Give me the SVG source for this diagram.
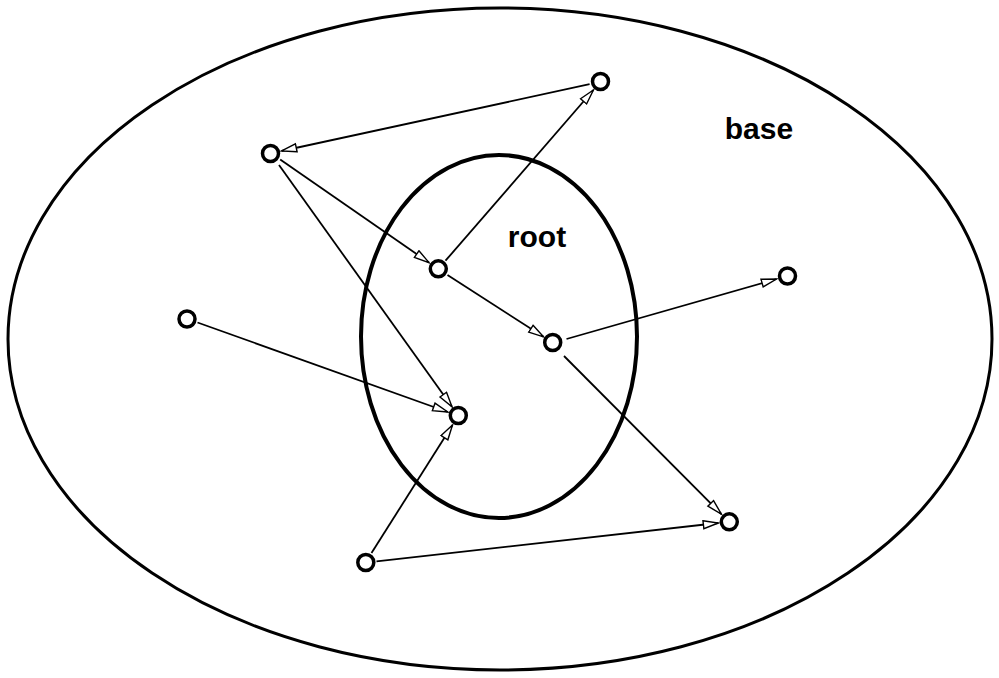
<svg xmlns="http://www.w3.org/2000/svg" width="999" height="678" viewBox="0 0 999 678">
<style>
.region{fill:none;stroke:#000}
.node{fill:#fff;stroke:#000;stroke-width:3.5}
.edge{fill:none;stroke:#000;stroke-width:1.8;marker-end:url(#arr)}
.lbl{font-family:"Liberation Sans",Arial,sans-serif;font-weight:bold;font-size:30px;text-anchor:middle;fill:#000}
</style>
<defs>
<marker id="arr" markerUnits="userSpaceOnUse" markerWidth="20" markerHeight="12" refX="16" refY="5" orient="auto">
<path d="M1,1 L16,5 L1,9 Z" fill="#fff" stroke="#000" stroke-width="1.4"/>
</marker>
</defs>
<g id="base">
<ellipse class="region" cx="500" cy="339" rx="492" ry="331" stroke-width="3"/>
<text class="lbl" x="759" y="139">base</text>
</g>
<g id="root">
<ellipse class="region" cx="499" cy="336.5" rx="138" ry="181.5" stroke-width="4"/>
<text class="lbl" x="537" y="247">root</text>
</g>
<g id="connectors">
<line class="edge" x1="589.6" y1="84.2" x2="281.6" y2="151"/>
<line class="edge" x1="445.5" y1="260.7" x2="593.4" y2="90"/>
<line class="edge" x1="280.2" y1="159.5" x2="429" y2="262.6"/>
<line class="edge" x1="279" y1="165" x2="452" y2="406.8"/>
<line class="edge" x1="447.5" y1="275" x2="543.5" y2="336.8"/>
<line class="edge" x1="566.5" y1="339" x2="776.5" y2="279"/>
<line class="edge" x1="564" y1="356" x2="721.3" y2="514"/>
<line class="edge" x1="197.5" y1="322.5" x2="447.8" y2="412"/>
<line class="edge" x1="371.5" y1="553" x2="452.5" y2="425"/>
<line class="edge" x1="376.5" y1="561.3" x2="718.3" y2="523"/>
</g>
<g id="nA"><circle class="node" cx="270.5" cy="153.5" r="8"/></g>
<g id="nB"><circle class="node" cx="600.5" cy="81.5" r="8"/></g>
<g id="nC"><circle class="node" cx="438.3" cy="268.8" r="8"/></g>
<g id="nD"><circle class="node" cx="552.7" cy="342.5" r="8"/></g>
<g id="nE"><circle class="node" cx="787.5" cy="276" r="8"/></g>
<g id="nF"><circle class="node" cx="187" cy="319" r="8"/></g>
<g id="nG"><circle class="node" cx="458.3" cy="415.5" r="8"/></g>
<g id="nH"><circle class="node" cx="365.8" cy="562.5" r="8"/></g>
<g id="nI"><circle class="node" cx="729.3" cy="521.8" r="8"/></g>
</svg>
